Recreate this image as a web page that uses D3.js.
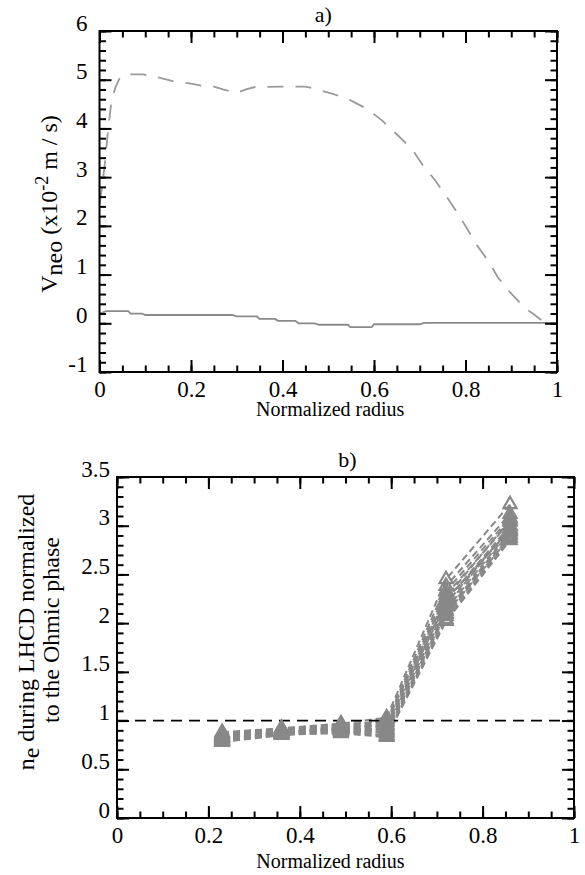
<!DOCTYPE html>
<html>
<head>
<meta charset="utf-8">
<script src="https://cdn.jsdelivr.net/npm/d3@7"></script>
<style>
  body { margin: 0; background: #fff; }
  text { font-family: "Liberation Serif", "Times New Roman", serif; fill: #000; }
</style>
</head>
<body>
<div id="chart"></div>
<script>
// ---------------------------------------------------------------------------
// Data
// ---------------------------------------------------------------------------
// panel a) : neoclassical velocity profiles (x = normalized radius, y in 1e-2 m/s)
const vneoDashed = [
    [0, 2.45], [0.005, 2.75], [0.012, 3.3], [0.018, 3.9], [0.026, 4.55], [0.035, 4.85],
    [0.045, 5.05], [0.057, 5.11], [0.095, 5.11], [0.127, 5.05], [0.16, 4.97], [0.20, 4.92],
    [0.227, 4.87], [0.25, 4.86], [0.27, 4.80], [0.30, 4.73], [0.32, 4.80], [0.34, 4.85],
    [0.40, 4.86], [0.45, 4.86], [0.476, 4.80], [0.51, 4.71], [0.548, 4.58], [0.585, 4.40],
    [0.618, 4.16], [0.653, 3.85], [0.683, 3.58], [0.707, 3.24], [0.734, 2.93], [0.76, 2.58],
    [0.782, 2.27], [0.803, 1.95], [0.825, 1.60], [0.849, 1.29], [0.871, 0.94], [0.897, 0.64],
    [0.93, 0.31], [0.95, 0.18], [0.967, 0.06], [0.975, 0.01]
];
const vneoSolid = [
    [0, 0.20], [0.015, 0.25], [0.063, 0.25], [0.068, 0.20], [0.093, 0.20], [0.10, 0.17],
    [0.29, 0.17], [0.30, 0.14], [0.344, 0.14], [0.35, 0.09], [0.384, 0.09], [0.39, 0.05],
    [0.428, 0.05], [0.435, 0.0], [0.47, 0.0], [0.48, -0.03], [0.543, -0.03], [0.548, -0.08],
    [0.595, -0.08], [0.60, -0.02], [0.70, -0.02], [0.71, 0.01], [1.0, 0.01]
];

// panel b) : density ratio LHCD / Ohmic at the interferometer chords
const chordRadius = [0.23, 0.36, 0.49, 0.59, 0.72, 0.86];
const neRatio = [
    [0.88, 0.92, 0.97, 1.03, 2.45, 3.22],
    [0.86, 0.91, 0.95, 1.00, 2.38, 3.12],
    [0.84, 0.90, 0.94, 0.98, 2.33, 3.08],
    [0.82, 0.89, 0.93, 0.96, 2.29, 3.04],
    [0.87, 0.92, 0.96, 0.99, 2.26, 3.06],
    [0.80, 0.88, 0.92, 0.94, 2.23, 3.00],
    [0.85, 0.90, 0.93, 0.95, 2.20, 2.97],
    [0.81, 0.87, 0.91, 0.91, 2.17, 2.99],
    [0.83, 0.89, 0.90, 0.92, 2.14, 2.95],
    [0.79, 0.86, 0.89, 0.88, 2.12, 2.92],
    [0.82, 0.88, 0.91, 0.87, 2.09, 2.94],
    [0.78, 0.85, 0.88, 0.85, 2.07, 2.90],
    [0.84, 0.89, 0.92, 0.90, 2.24, 2.96],
    [0.80, 0.87, 0.90, 0.84, 2.04, 2.87],
    [0.79, 0.86, 0.87, 0.83, 2.02, 2.85],
    [0.83, 0.88, 0.90, 0.89, 2.10, 2.88]
];
const ohmicLevel = 1;

// ticks
const xMajor = [0, 0.2, 0.4, 0.6, 0.8, 1];
const xMinor = d3.range(0, 1.0001, 0.05);
const yMajorA = [-1, 0, 1, 2, 3, 4, 5, 6];
const yMinorA = d3.range(-1, 6.0001, 0.2);
const yMajorB = [0, 0.5, 1, 1.5, 2, 2.5, 3, 3.5];
const yMinorB = d3.range(0, 3.5001, 0.1);

// ---------------------------------------------------------------------------
// Setup
// ---------------------------------------------------------------------------
const svg = d3.select('#chart').append('svg')
    .attr('width', 585)
    .attr('height', 875);

const TICK_FONT = 23;   // tick numbers
const TITLE_FONT = 20;  // "Normalized radius"
const YLAB_FONT = 24;   // rotated y titles
const MAJ = 12, MIN = 6.5;

// boxed frame with inward ticks on all four sides
function drawFrame(g, x, y, w, h, yMajor, yMinor, yGap) {
    const sides = [
        { ax: d3.axisBottom, t: `translate(0,${h})`, s: x, maj: xMajor, min: xMinor, lab: true },
        { ax: d3.axisTop, t: 'translate(0,0)', s: x, maj: xMajor, min: xMinor, lab: false },
        { ax: d3.axisLeft, t: 'translate(0,0)', s: y, maj: yMajor, min: yMinor, lab: true },
        { ax: d3.axisRight, t: `translate(${w},0)`, s: y, maj: yMajor, min: yMinor, lab: false }
    ];
    sides.forEach(sd => {
        g.append('g').attr('transform', sd.t)
            .call(sd.ax(sd.s).tickValues(sd.min).tickSize(-MIN).tickFormat(''))
            .call(a => a.select('.domain').remove());
        const major = g.append('g').attr('transform', sd.t)
            .call(sd.ax(sd.s).tickValues(sd.maj).tickSize(-MAJ)
                .tickFormat(sd.lab ? d => String(d) : ''))
            .call(a => a.select('.domain').remove());
        major.selectAll('text')
            .style('font-family', '"Liberation Serif", serif')
            .style('font-size', TICK_FONT + 'px')
            .attr('fill', '#000');
        if (sd.ax === d3.axisBottom) {
            major.selectAll('text').attr('y', 25).attr('dy', 0);
        }
        if (sd.ax === d3.axisLeft) {
            major.selectAll('text').attr('x', -yGap).attr('dy', -1);
        }
    });
    g.selectAll('.tick line').attr('stroke', '#000').attr('stroke-width', 2);
    g.append('rect')
        .attr('width', w).attr('height', h)
        .attr('fill', 'none').attr('stroke', '#000').attr('stroke-width', 2);
}

// ---------------------------------------------------------------------------
// Panel a)
// ---------------------------------------------------------------------------
const A = { left: 99.5, top: 31, w: 457.5, h: 341 };
const gA = svg.append('g').attr('transform', `translate(${A.left},${A.top})`);
const xA = d3.scaleLinear().domain([0, 1]).range([0, A.w]);
const yA = d3.scaleLinear().domain([-1, 6]).range([A.h, 0]);

const lineA = d3.line().x(d => xA(d[0])).y(d => yA(d[1]));

gA.append('path').datum(vneoSolid)
    .attr('d', lineA)
    .attr('fill', 'none').attr('stroke', '#8a8a8a').attr('stroke-width', 1.8);

gA.append('path').datum(vneoDashed)
    .attr('d', lineA)
    .attr('fill', 'none').attr('stroke', '#9a9a9a').attr('stroke-width', 1.8)
    .attr('stroke-dasharray', '16,12');

drawFrame(gA, xA, yA, A.w, A.h, yMajorA, yMinorA, 12);

gA.append('text')
    .attr('x', A.w / 2 - 5).attr('y', -9)
    .attr('text-anchor', 'middle').style('font-size', '22px')
    .text('a)');

gA.append('text')
    .attr('x', A.w / 2 + 2).attr('y', A.h + 44)
    .attr('text-anchor', 'middle').style('font-size', TITLE_FONT + 'px')
    .text('Normalized radius');

const yLabA = gA.append('text')
    .attr('transform', `translate(${57 - A.left},${204 - A.top}) rotate(-90)`)
    .attr('text-anchor', 'middle').style('font-size', YLAB_FONT + 'px');
yLabA.append('tspan').text('V');
yLabA.append('tspan').attr('dy', 5).text('neo');
yLabA.append('tspan').attr('dy', -5).text(' (x10');
yLabA.append('tspan').attr('dy', -9).style('font-size', '18px').text('-2');
yLabA.append('tspan').attr('dy', 9).text(' m / s)');

// ---------------------------------------------------------------------------
// Panel b)
// ---------------------------------------------------------------------------
const B = { left: 117, top: 477, w: 457, h: 341 };
const gB = svg.append('g').attr('transform', `translate(${B.left},${B.top})`);
const xB = d3.scaleLinear().domain([0, 1]).range([0, B.w]);
const yB = d3.scaleLinear().domain([0, 3.5]).range([B.h, 0]);

const lineB = d3.line().x((d, i) => xB(chordRadius[i])).y(d => yB(d));

gB.selectAll('.series')
    .data(neRatio)
    .enter()
    .append('path')
    .attr('class', 'series')
    .attr('d', lineB)
    .attr('fill', 'none').attr('stroke', '#888').attr('stroke-width', 2)
    .attr('stroke-dasharray', '7,4');

gB.append('line')
    .attr('x1', xB(0)).attr('x2', xB(1))
    .attr('y1', yB(ohmicLevel)).attr('y2', yB(ohmicLevel))
    .attr('stroke', '#000').attr('stroke-width', 1.8)
    .attr('stroke-dasharray', '11,7');

const tri = d3.symbol(d3.symbolTriangle, 75);
neRatio.forEach(s => {
    gB.selectAll(null)
        .data(s)
        .enter()
        .append('path')
        .attr('d', tri)
        .attr('transform', (d, i) => `translate(${xB(chordRadius[i])},${yB(d)})`)
        .attr('fill', 'none').attr('stroke', '#888').attr('stroke-width', 2.2);
});

drawFrame(gB, xB, yB, B.w, B.h, yMajorB, yMinorB, 7);

gB.append('text')
    .attr('x', B.w / 2 + 2).attr('y', -10)
    .attr('text-anchor', 'middle').style('font-size', '22px')
    .text('b)');

gB.append('text')
    .attr('x', B.w / 2 - 15).attr('y', B.h + 50)
    .attr('text-anchor', 'middle').style('font-size', TITLE_FONT + 'px')
    .text('Normalized radius');

const yLabB = gB.append('text')
    .attr('transform', `translate(${34 - B.left},${632 - B.top}) rotate(-90)`)
    .attr('text-anchor', 'middle').style('font-size', YLAB_FONT + 'px');
yLabB.append('tspan').text('n');
yLabB.append('tspan').attr('dy', 5).text('e');
yLabB.append('tspan').attr('dy', -5).text(' during LHCD normalized');

gB.append('text')
    .attr('transform', `translate(${59 - B.left},${630 - B.top}) rotate(-90)`)
    .attr('text-anchor', 'middle').style('font-size', YLAB_FONT + 'px')
    .text('to the Ohmic phase');
</script>
</body>
</html>
